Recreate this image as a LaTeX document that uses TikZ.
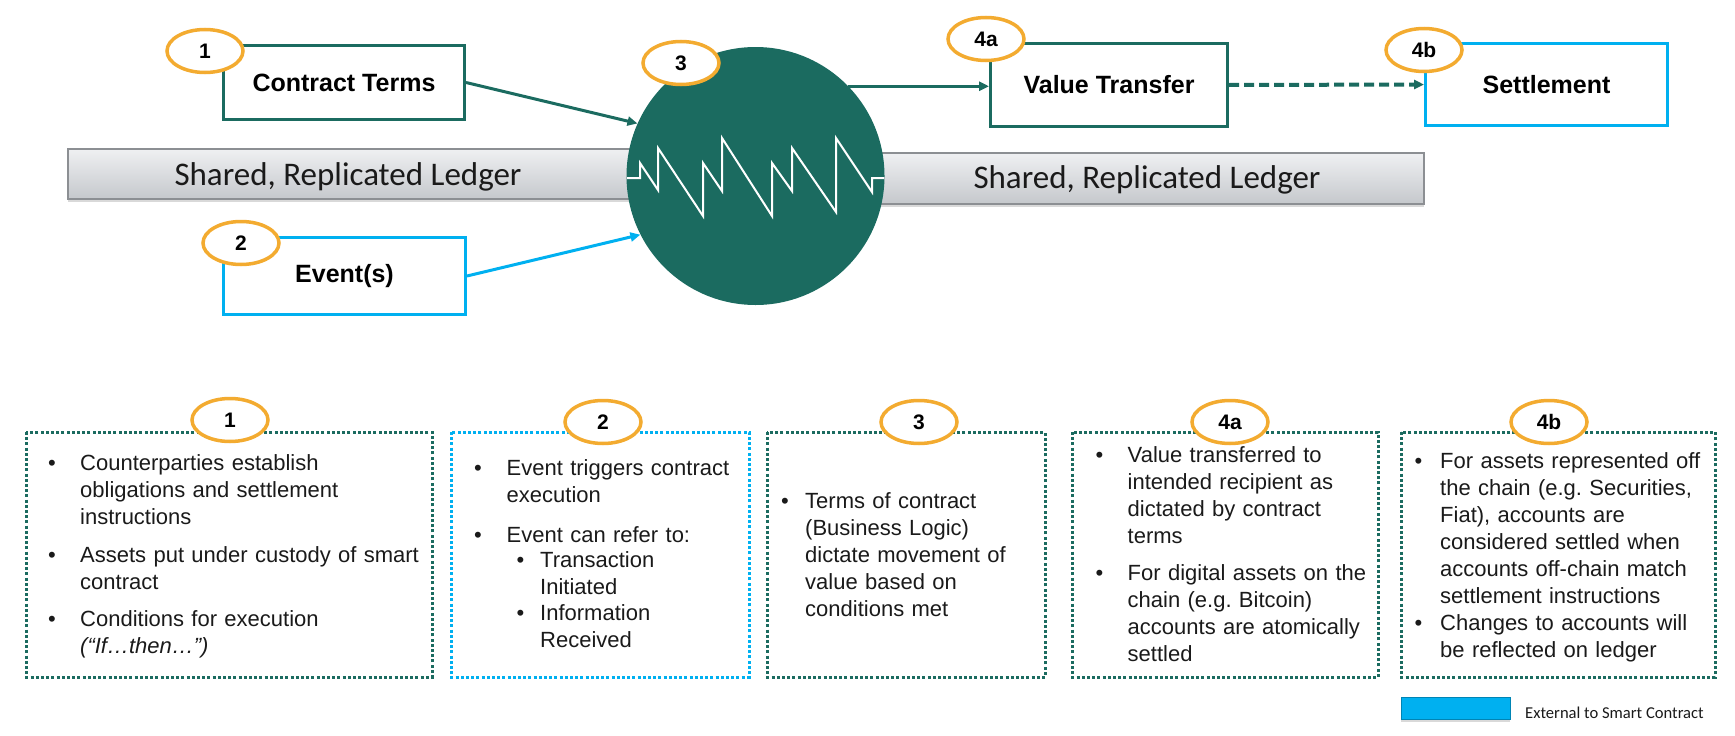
\documentclass[tikz,border=0pt]{standalone}
\usepackage{fontspec}
\setmainfont{Liberation Sans}
\newfontfamily\ledgerfont{Carlito}
\usetikzlibrary{shapes.geometric,arrows.meta,shadows}

\definecolor{scteal}{RGB}{27,107,96}
\definecolor{sccyan}{RGB}{0,176,240}
\definecolor{scgold}{RGB}{243,171,48}
\definecolor{ledgertop}{RGB}{239,240,242}
\definecolor{ledgerbot}{RGB}{197,200,204}
\definecolor{ledgerline}{RGB}{140,143,147}
\definecolor{ink}{RGB}{26,26,26}

\newcommand\bul[1]{\noindent\hangindent=#1\hangafter=1\makebox[#1][l]{\textbullet}}
\newcommand\subbul{\noindent\hangindent=66pt\hangafter=1\hspace*{42.5pt}\makebox[23.5pt][l]{\textbullet}}
\newcommand\nl{\newline}

\tikzset{
  badge/.style={ellipse, draw=scgold, line width=3.5pt, fill=white, minimum width=76pt, minimum height=43pt, inner sep=0pt, font=\bfseries\fontsize{21}{21}\selectfont},
  termbox/.style={rectangle, draw=scteal, line width=3pt, fill=white, inner sep=0pt, font=\bfseries\fontsize{25}{25}\selectfont},
  extbox/.style={termbox, draw=sccyan},
  ledger/.style={draw=ledgerline, line width=1.5pt, top color=ledgertop, bottom color=ledgerbot, drop shadow={shadow xshift=0pt, shadow yshift=-3pt, opacity=.3}},
  ledgertext/.style={text=ink, font=\ledgerfont\fontsize{33}{33}\selectfont, anchor=base, inner sep=0pt},
  tealarrow/.style={draw=scteal, line width=3pt, -{Triangle[length=10pt,width=9pt]}},
  cyanarrow/.style={tealarrow, draw=sccyan},
  dotbox/.style={draw=scteal, line width=3pt, dash pattern=on 3pt off 2.2pt},
  notes/.style={anchor=base west, inner sep=0pt, text width=400pt, text=ink, font=\fontsize{22}{27}\selectfont\frenchspacing},
}

\begin{document}
\begin{tikzpicture}[x=1pt,y=-1pt]
  \useasboundingbox (0,0) rectangle (1735,736);

  % ledger behind the contract
  \draw[ledger] (68,149) rectangle (700,199);
  \draw[ledger] (800,153) rectangle (1424,204);
  \node[ledgertext] (ledgerL) at (348,185) {Shared, Replicated Ledger};
  \node[ledgertext] (ledgerR) at (1147,188) {Shared, Replicated Ledger};

  % smart contract
  \node[circle, fill=scteal, minimum size=258pt, inner sep=0pt] (sc) at (755.5,176) {};
  \draw[white, line width=2pt] (627,178) -- (640,178) -- (640,163) -- (658,190) -- (658,148)
    -- (703,216) -- (703,163) -- (722,191) -- (722,138) -- (772,216) -- (772,163)
    -- (792,191) -- (792,148) -- (836,212) -- (836,138) -- (872,192) -- (872,178) -- (884,178);

  \node[termbox, minimum width=241pt, minimum height=74pt] (ct) at (344,82.5) {Contract Terms};
  \node[extbox, minimum width=242pt, minimum height=77pt] (ev) at (344.5,276) {Event(s)};
  \node[termbox, minimum width=237pt, minimum height=83pt] (vt) at (1109,85) {Value Transfer};
  \node[extbox, minimum width=242pt, minimum height=82pt] (st) at (1546.5,84.5) {Settlement};

  \draw[tealarrow] (ct.east) -- (sc.156);
  \draw[cyanarrow] (ev.east) -- (sc.207);
  \draw[tealarrow] (sc.44) -- (sc.44 -| vt.west);
  \draw[tealarrow, line width=4pt, dash pattern=on 10pt off 5pt] (vt.east) -- (st.west);

  \node[badge] (num1) at (205,51) {1};
  \node[badge] (num2) at (241,243) {2};
  \node[badge] (num3) at (681,63) {3};
  \node[badge] (num4a) at (986,39) {4a};
  \node[badge] (num4b) at (1424,50) {4b};

  % notes
  \draw[dotbox] (26,432) rectangle (432,677);
  \draw[dotbox, draw=sccyan] (451,432) rectangle (749,677);
  \draw[dotbox] (767,432) rectangle (1045,677);
  \draw[dotbox] (1072,432) rectangle (1378,677);
  \draw[dotbox] (1401,432) rectangle (1715,677);

  \node[notes] (note1) at (48,470) {\bul{32pt}Counterparties establish\nl obligations and settlement\nl instructions\par\vspace{11pt}\bul{32pt}Assets put under custody of smart\nl contract\par\vspace{10pt}\bul{32pt}Conditions for execution\nl\textit{(“If…then…”)}\par};
  \node[notes] (note2) at (474,475) {\bul{32.5pt}Event triggers contract\nl execution\par\vspace{13pt}\bul{32.5pt}Event can refer to:\par\vspace{-2pt}\subbul Transaction\nl Initiated\par\vspace{-1pt}\subbul Information\nl Received\par};
  \node[notes] (note3) at (781,508) {\bul{24pt}Terms of contract\nl(Business Logic)\nl dictate movement of\nl value based on\nl conditions met\par};
  \node[notes] (note4a) at (1095.5,462) {\bul{32pt}Value transferred to\nl intended recipient as\nl dictated by contract\nl terms\par\vspace{10pt}\bul{32pt}For digital assets on the\nl chain (e.g. Bitcoin)\nl accounts are atomically\nl settled\par};
  \node[notes] (note4b) at (1414.5,468) {\bul{25.5pt}For assets represented off\nl the chain (e.g. Securities,\nl Fiat), accounts are\nl considered settled when\nl accounts off-chain match\nl settlement instructions\par\bul{25.5pt}Changes to accounts will\nl be reflected on ledger\par};

  \node[badge] (key1) at (230,420) {1};
  \node[badge] (key2) at (603,422) {2};
  \node[badge] (key3) at (919,422) {3};
  \node[badge] (key4a) at (1230,422) {4a};
  \node[badge] (key4b) at (1549,422) {4b};

  % legend
  \node[rectangle, fill=sccyan, draw=sccyan!75!black, line width=1pt, minimum width=109pt, minimum height=22pt, inner sep=0pt, drop shadow={shadow xshift=0pt, shadow yshift=-3pt, opacity=.3}] (ext) at (1455.5,708) {};
  \node[anchor=base west, inner sep=0pt, text=ink, font=\ledgerfont\fontsize{16.6}{16.6}\selectfont] (extlabel) at (1525,718) {External to Smart Contract};
\end{tikzpicture}
\end{document}
